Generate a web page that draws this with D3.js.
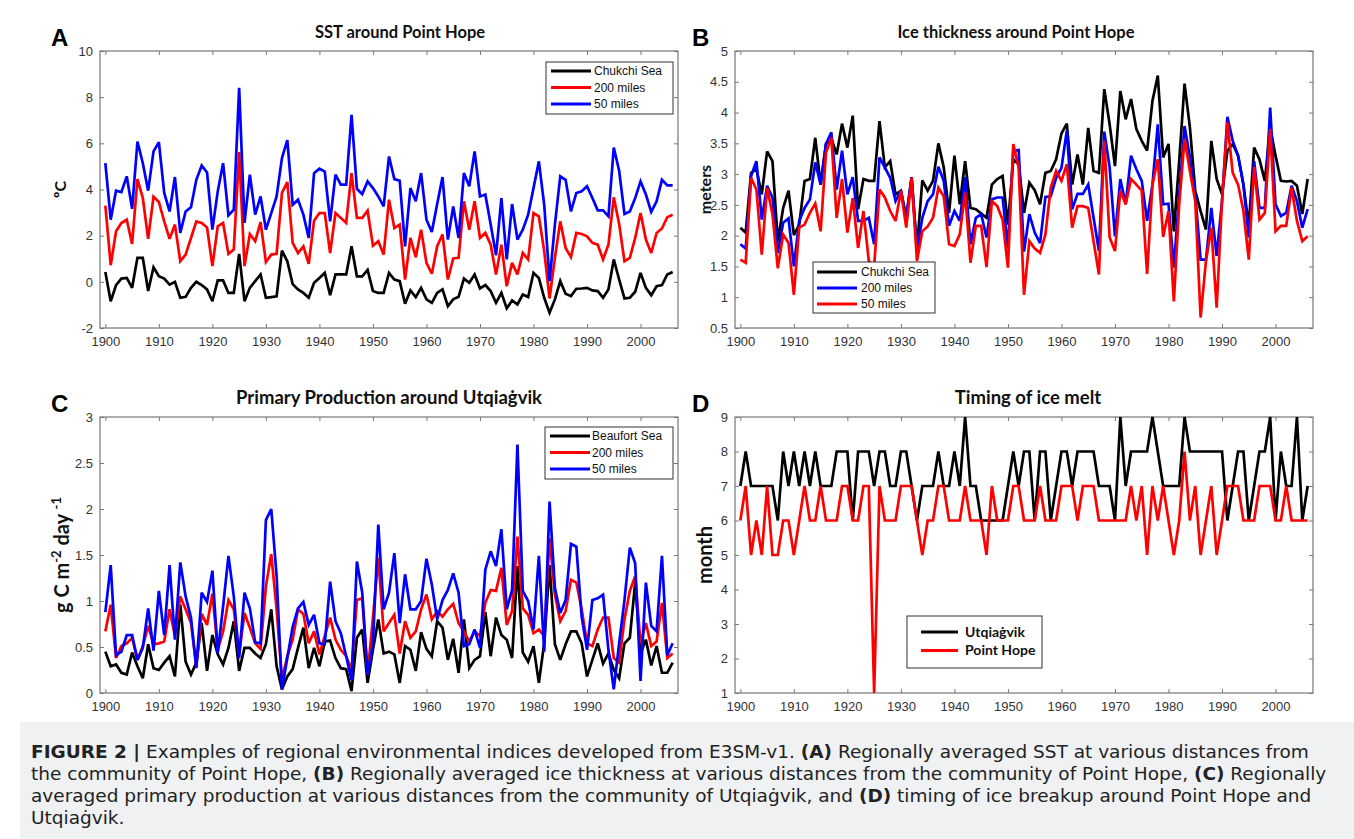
<!DOCTYPE html>
<meta charset="utf-8">
<style>
body { margin: 0; background: #fff; }
</style>
<svg id="fig" width="1354" height="839"></svg>
<script src="https://cdn.jsdelivr.net/npm/d3@7"></script>
<script>

var years = d3.range(1900, 2007);
var yearTicks = [1900, 1910, 1920, 1930, 1940, 1950, 1960, 1970, 1980, 1990, 2000];

// A: SST around Point Hope (deg C)
var sstChukchi = [0.43,-0.84,-0.14,0.14,0.17,-0.26,1.04,1.04,-0.40,0.63,0.24,0.14,-0.12,0.00,-0.69,-0.65,-0.26,0.00,-0.14,-0.33,-0.84,0.06,0.06,-0.48,-0.48,1.21,-0.84,-0.26,0.03,0.32,-0.69,-0.66,-0.63,1.35,0.89,-0.10,
  -0.33,-0.48,-0.69,-0.04,0.17,0.39,-0.58,0.32,0.32,0.32,1.54,0.24,0.24,0.52,-0.40,-0.48,-0.48,0.39,0.10,0.03,-0.95,-0.37,-0.66,-0.26,-0.76,-0.91,-0.48,-0.33,-1.05,-0.76,-0.65,0.14,-0.04,0.32,-0.29,-0.14,-0.40,
  -0.91,-0.48,-1.15,-0.81,-0.98,-0.55,-0.66,0.39,0.17,-0.69,-1.34,-0.76,0.03,-0.52,-0.62,-0.30,-0.29,-0.26,-0.37,-0.40,-0.69,-0.33,0.97,0.10,-0.72,-0.69,-0.43,0.39,-0.26,-0.58,-0.19,-0.14,0.32,0.43];
var sst200 = [3.30,0.72,2.19,2.55,2.69,1.64,4.45,3.63,1.86,3.69,3.46,2.62,1.86,2.48,0.89,1.18,1.90,2.62,2.55,2.36,0.68,2.41,2.55,1.21,1.40,5.62,0.68,2.07,1.76,2.59,0.86,1.18,1.21,3.85,4.32,1.69,
  1.25,1.54,0.78,2.65,2.98,2.98,1.25,2.98,2.77,2.55,4.71,2.77,2.77,3.08,1.57,1.76,1.18,3.56,2.33,2.48,0.10,1.90,1.07,2.26,0.82,0.35,1.54,2.05,0.10,1.01,1.04,3.49,2.26,3.49,1.90,2.12,1.61,
  0.32,1.61,-0.19,0.82,0.32,1.25,0.97,2.98,2.84,1.33,-0.72,1.04,2.62,1.47,1.07,2.12,2.07,1.97,1.69,1.61,0.97,1.61,3.66,2.51,0.89,1.04,1.90,2.98,1.83,1.25,2.12,2.31,2.80,2.91];
var sst50 = [5.14,2.69,3.95,3.89,4.57,3.16,6.08,5.14,3.95,5.65,6.05,3.85,3.05,4.54,2.12,3.05,3.23,4.42,5.04,4.74,2.26,3.92,5.14,2.88,3.13,8.41,2.55,4.64,2.91,3.70,2.26,2.98,3.70,5.36,6.14,3.34,
  3.56,2.91,1.90,4.71,4.90,4.78,2.62,4.64,4.21,4.21,7.23,4.03,3.80,4.35,4.06,3.70,3.27,5.43,4.45,4.38,1.54,4.06,3.49,4.71,2.69,2.16,3.37,4.54,1.83,3.27,1.90,4.71,4.14,5.65,3.70,3.78,2.48,
  1.15,3.63,0.97,3.37,1.83,2.26,2.91,4.06,5.22,3.34,0.03,2.48,4.57,4.42,3.05,3.85,3.92,4.14,3.63,3.10,3.10,2.84,5.82,4.81,2.94,3.05,3.63,4.35,3.78,3.03,3.49,4.42,4.18,4.18];
var sstTicks = [-2, 0, 2, 4, 6, 8, 10];

// B: ice thickness around Point Hope (meters)
var iceChukchi = [2.13,2.05,3.02,3.08,2.67,3.37,3.21,1.91,2.45,2.73,2.01,2.18,2.89,2.92,3.59,2.83,3.49,3.58,3.32,3.82,3.43,3.95,2.43,2.92,2.89,2.89,3.86,3.11,3.21,2.67,2.73,2.29,2.95,1.78,2.90,2.73,
  2.89,3.50,3.11,2.37,3.30,2.51,3.21,2.45,2.43,2.36,2.29,2.83,2.92,2.97,2.18,3.24,3.16,2.37,2.86,2.74,2.51,3.02,3.05,3.24,3.66,3.82,2.83,3.32,2.83,3.75,3.05,3.02,4.38,3.81,3.13,4.35,
  3.89,4.22,3.73,3.54,3.38,4.19,4.60,3.27,3.49,2.07,3.21,4.47,3.76,2.73,2.40,2.10,3.54,2.92,2.67,3.38,3.49,3.30,2.83,2.16,3.43,3.24,2.89,3.76,3.30,2.89,2.88,2.89,2.81,2.35,2.92];
var ice200 = [1.86,1.79,2.97,3.21,2.26,2.81,2.62,1.72,2.21,2.28,1.50,2.24,2.45,2.59,3.19,2.83,3.49,3.68,2.75,3.38,2.67,2.95,2.24,2.24,2.29,1.86,3.27,3.11,2.94,2.56,2.73,2.29,2.95,1.75,2.29,2.56,
  2.67,3.12,2.89,2.16,2.40,2.24,2.95,1.86,2.29,2.35,1.97,2.59,2.62,2.62,1.80,3.38,3.39,1.74,2.35,2.05,1.88,2.63,2.64,2.94,3.10,3.71,2.43,2.68,2.68,2.83,2.29,1.75,3.69,3.11,1.99,2.92,
  2.51,3.30,3.08,2.89,2.24,2.83,3.81,2.51,2.52,1.48,2.67,3.78,3.27,2.67,1.61,1.61,2.45,1.67,2.56,3.93,3.54,3.30,2.83,1.97,3.21,2.45,2.45,4.08,2.51,2.32,2.37,2.81,2.56,2.13,2.43];
var ice50 = [1.61,1.56,2.94,2.75,1.69,2.78,2.35,1.47,2.02,1.88,1.04,2.13,2.18,2.37,2.52,2.07,3.35,3.59,2.29,2.92,2.05,2.61,1.80,2.40,1.59,1.50,2.75,2.62,2.40,2.24,2.73,2.13,2.94,1.59,2.07,2.15,
  2.29,2.78,2.64,1.86,1.83,2.02,2.70,1.56,2.16,2.16,1.49,2.56,2.48,2.26,1.48,3.49,3.11,1.04,1.91,1.79,1.72,2.02,2.78,3.05,2.89,3.16,2.13,2.48,2.48,2.45,1.91,1.37,3.54,1.97,1.75,2.73,
  2.51,2.92,2.83,2.73,1.38,2.83,3.24,1.98,2.40,0.93,2.51,3.57,3.05,2.56,0.67,1.59,2.13,0.83,2.56,3.84,3.02,2.83,2.40,1.61,3.12,2.26,2.37,3.73,2.07,2.16,2.16,2.78,2.24,1.91,1.99];
var iceTicks = [0.5, 1, 1.5, 2, 2.5, 3, 3.5, 4, 4.5, 5];

// C: primary production around Utqiagvik (g C m-2 day-1)
var ppBeaufort = [0.45,0.29,0.31,0.22,0.20,0.44,0.29,0.16,0.53,0.27,0.25,0.33,0.40,0.18,0.96,0.34,0.20,0.33,0.76,0.24,0.63,0.42,0.31,0.49,0.78,0.24,0.49,0.49,0.43,0.38,0.53,0.91,0.29,0.04,0.18,0.26,
  0.49,0.71,0.27,0.49,0.29,0.56,0.57,0.38,0.27,0.26,0.02,0.60,0.69,0.11,0.47,0.80,0.43,0.45,0.42,0.11,0.51,0.47,0.24,0.66,0.48,0.40,0.78,0.71,0.36,0.59,0.22,0.80,0.27,0.36,0.40,0.88,
  0.40,0.82,0.63,0.58,0.38,1.38,0.44,0.34,0.51,0.11,0.54,1.39,0.53,0.36,0.53,0.67,0.67,0.54,0.18,0.36,0.54,0.32,0.43,0.25,0.16,0.54,0.60,1.20,0.43,0.58,0.30,0.51,0.22,0.22,0.33];
var pp200 = [0.67,0.96,0.38,0.51,0.54,0.60,0.36,0.51,0.73,0.53,0.54,0.56,0.91,0.62,1.05,0.91,0.76,0.29,0.86,0.74,1.08,0.47,0.67,1.01,0.91,0.42,0.87,0.71,0.54,0.48,1.16,1.51,0.91,0.14,0.40,0.58,
  0.91,0.86,0.54,0.67,0.42,0.62,0.82,0.58,0.47,0.40,0.25,1.01,1.03,0.20,0.82,1.47,0.67,0.76,0.85,0.43,0.78,0.60,0.67,0.91,1.07,0.80,0.89,0.83,0.91,0.97,0.76,0.67,0.56,0.67,0.62,0.98,
  1.12,1.11,1.36,0.74,0.89,1.70,0.92,0.85,0.65,0.69,0.62,1.68,1.07,0.78,0.89,1.23,1.20,0.91,0.54,0.51,0.69,0.82,0.82,0.38,0.33,0.80,1.11,1.27,0.54,0.76,0.51,0.56,0.98,0.38,0.43];
var pp50 = [0.88,1.39,0.41,0.45,0.63,0.63,0.36,0.49,0.92,0.46,1.11,0.63,1.39,0.58,1.42,1.05,0.82,0.27,1.09,0.99,1.33,0.43,0.94,1.49,1.05,0.38,1.09,0.92,0.55,0.54,1.88,2.00,1.27,0.04,0.38,0.72,
  0.92,0.99,0.74,0.85,0.54,0.53,1.21,0.78,0.65,0.40,0.14,1.43,1.09,0.20,0.54,1.83,0.91,1.09,1.52,0.76,1.29,0.91,0.91,1.00,1.46,1.18,0.80,1.01,1.12,1.30,1.09,0.51,0.53,0.69,0.49,1.34,
  1.54,1.38,1.78,0.91,1.12,2.70,1.11,1.00,0.69,1.49,0.45,2.08,1.14,0.87,1.01,1.62,1.59,0.83,0.47,1.01,1.03,1.07,0.47,0.04,0.54,1.01,1.58,1.41,0.13,1.20,0.73,0.67,1.49,0.41,0.54];
var ppTicks = [0, 0.5, 1, 1.5, 2, 2.5, 3];

// D: timing of ice melt (month)
var meltUtqiagvik = [7,8,7,7,7,7,7,6,8,7,8,7,8,7,8,7,7,7,8,8,8,6,8,8,8,7,8,8,7,7,8,8,7,6,7,7,
  7,8,7,7,8,7,9,7,7,6,6,6,6,6,7,8,7,8,8,6,8,8,6,7,8,8,7,8,8,8,8,7,7,7,6,9,
  7,8,8,8,8,9,8,7,7,7,7,9,8,8,8,8,8,8,8,6,7,8,8,6,7,8,8,9,6,8,7,7,9,6,7];
var meltPointHope = [6,7,5,6,5,7,5,5,6,6,5,6,7,6,6,7,6,6,6,7,7,6,6,7,7,1,7,6,6,6,7,7,7,6,5,6,
  6,7,7,6,6,6,7,6,6,6,5,7,6,6,6,7,7,6,6,6,7,6,6,6,7,7,7,6,7,7,7,6,6,6,6,
  6,6,7,6,7,5,7,6,7,6,5,6,8,6,7,5,6,7,5,6,7,7,7,6,6,6,7,7,7,6,6,7,6,6,6,6];
var meltTicks = [1, 2, 3, 4, 5, 6, 7, 8, 9];

var svg = d3.select("#fig");
var axisFont = "'Liberation Sans', Arial, sans-serif";
var titleFont = "Lato, 'Open Sans', sans-serif";

function styleAxis(g) {
  g.select(".domain").remove();
  g.selectAll(".tick line").attr("stroke", "#777").attr("stroke-width", 1);
  g.selectAll(".tick text").attr("fill", "#333").style("font-family", axisFont).style("font-size", "13px");
}

function drawPanel(p) {
  var x = d3.scaleLinear().domain([1899, 2007]).range([p.left, p.right]);
  var y = d3.scaleLinear().domain(p.yDomain).range([p.bottom, p.top]);
  var g = svg.append("g");

  g.append("g").attr("transform", "translate(0," + p.bottom + ")")
    .call(d3.axisBottom(x).tickValues(yearTicks).tickFormat(d3.format("d")).tickSize(-4).tickPadding(9))
    .call(styleAxis);
  g.append("g").attr("transform", "translate(0," + p.top + ")")
    .call(d3.axisTop(x).tickValues(yearTicks).tickFormat("").tickSize(-4))
    .call(styleAxis);
  g.append("g").attr("transform", "translate(" + p.left + ",0)")
    .call(d3.axisLeft(y).tickValues(p.yTicks).tickFormat(function(d){ return String(d); }).tickSize(-4).tickPadding(7))
    .call(styleAxis);
  g.append("g").attr("transform", "translate(" + p.right + ",0)")
    .call(d3.axisRight(y).tickValues(p.yTicks).tickFormat("").tickSize(-4))
    .call(styleAxis);

  g.append("rect")
    .attr("x", p.left).attr("y", p.top)
    .attr("width", p.right - p.left).attr("height", p.bottom - p.top)
    .attr("fill", "none").attr("stroke", "#777").attr("stroke-width", 1.2);

  var line = d3.line().x(function(d, i){ return x(years[i]); }).y(function(d){ return y(d); });
  p.series.forEach(function(s){
    g.append("path").datum(s.values)
      .attr("d", line)
      .attr("fill", "none")
      .attr("stroke", s.color)
      .attr("stroke-width", 2.7)
      .attr("stroke-linejoin", "miter")
      .attr("stroke-miterlimit", 3);
  });

  g.append("text")
    .attr("x", p.titleX).attr("y", p.top - 13)
    .attr("text-anchor", "middle")
    .style("font-family", titleFont).style("font-weight", "bold").style("font-size", p.titleSize + "px")
    .attr("fill", "#111")
    .text(p.title);

  g.append("text")
    .attr("x", p.letterX).attr("y", p.top - 5)
    .style("font-family", axisFont).style("font-weight", "bold").style("font-size", "24px")
    .attr("fill", "#000")
    .text(p.letter);

  var yl = g.append("text")
    .attr("transform", "translate(" + p.ylabelX + "," + ((p.top + p.bottom) / 2) + ") rotate(-90)")
    .attr("text-anchor", "middle")
    .style("font-family", titleFont).style("font-weight", "bold").style("font-size", p.ylabelSize + "px")
    .attr("fill", "#111");
  p.ylabel.forEach(function(part){
    var t = yl.append("tspan").text(part.t);
    if (part.sup) t.attr("baseline-shift", "super").style("font-size", Math.round(p.ylabelSize * 0.65) + "px");
  });

  // legend
  var L = p.legend;
  var lg = g.append("g");
  lg.append("rect")
    .attr("x", L.x).attr("y", L.y).attr("width", L.w).attr("height", L.h)
    .attr("fill", "#fff").attr("stroke", "#333").attr("stroke-width", 1);
  L.items.forEach(function(it, i){
    var yy = L.y + L.pad + i * L.step;
    lg.append("line")
      .attr("x1", L.x + L.lx0).attr("x2", L.x + L.lx1)
      .attr("y1", yy).attr("y2", yy)
      .attr("stroke", it.color).attr("stroke-width", 3);
    lg.append("text")
      .attr("x", L.x + L.tx).attr("y", yy).attr("dy", "0.35em")
      .style("font-family", L.bold ? titleFont : axisFont)
      .style("font-weight", L.bold ? "bold" : "normal")
      .style("font-size", L.fs + "px")
      .attr("fill", "#111")
      .text(it.label);
  });
}

drawPanel({
  left: 100, right: 678, top: 51, bottom: 328,
  yDomain: [-2, 10], yTicks: sstTicks,
  title: "SST around Point Hope", titleX: 400, titleSize: 16.5, letter: "A", letterX: 51,
  ylabel: [{t: "º"}, {t: "C"}], ylabelX: 66, ylabelSize: 16,
  series: [
    {values: sstChukchi, color: "#000"},
    {values: sst200, color: "#ff0000"},
    {values: sst50, color: "#0000ff"}
  ],
  legend: {x: 546, y: 62, w: 127, h: 52, pad: 9, step: 16.5, lx0: 5, lx1: 45, tx: 48, fs: 12,
    items: [{label: "Chukchi Sea", color: "#000"}, {label: "200 miles", color: "#ff0000"}, {label: "50 miles", color: "#0000ff"}]}
});

drawPanel({
  left: 735, right: 1313, top: 51, bottom: 328,
  yDomain: [0.5, 5], yTicks: iceTicks,
  title: "Ice thickness around Point Hope", titleX: 1016, titleSize: 16.5, letter: "B", letterX: 692,
  ylabel: [{t: "meters"}], ylabelX: 711, ylabelSize: 16,
  series: [
    {values: iceChukchi, color: "#000"},
    {values: ice200, color: "#0000ff"},
    {values: ice50, color: "#ff0000"}
  ],
  legend: {x: 813, y: 262, w: 122, h: 51, pad: 10, step: 16, lx0: 4, lx1: 44, tx: 48, fs: 12,
    items: [{label: "Chukchi Sea", color: "#000"}, {label: "200 miles", color: "#0000ff"}, {label: "50 miles", color: "#ff0000"}]}
});

drawPanel({
  left: 100, right: 678, top: 417, bottom: 693,
  yDomain: [0, 3], yTicks: ppTicks,
  title: "Primary Production around Utqiaġvik", titleX: 389, titleSize: 18.5, letter: "C", letterX: 51,
  ylabel: [{t: "g C m"}, {t: "-2", sup: true}, {t: " day "}, {t: "-1", sup: true}], ylabelX: 69, ylabelSize: 20,
  series: [
    {values: ppBeaufort, color: "#000"},
    {values: pp200, color: "#ff0000"},
    {values: pp50, color: "#0000ff"}
  ],
  legend: {x: 545, y: 427, w: 128, h: 52, pad: 9, step: 16.5, lx0: 5, lx1: 45, tx: 47, fs: 12,
    items: [{label: "Beaufort Sea", color: "#000"}, {label: "200 miles", color: "#ff0000"}, {label: "50 miles", color: "#0000ff"}]}
});

drawPanel({
  left: 735, right: 1313, top: 417, bottom: 693,
  yDomain: [1, 9], yTicks: meltTicks,
  title: "Timing of ice melt", titleX: 1028, titleSize: 18.5, letter: "D", letterX: 692,
  ylabel: [{t: "month"}], ylabelX: 712, ylabelSize: 20,
  series: [
    {values: meltUtqiagvik, color: "#000"},
    {values: meltPointHope, color: "#ff0000"}
  ],
  legend: {x: 907, y: 616, w: 135, h: 52, pad: 16, step: 18.5, lx0: 14, lx1: 51, tx: 58, fs: 14, bold: true,
    items: [{label: "Utqiaġvik", color: "#000"}, {label: "Point Hope", color: "#ff0000"}]}
});

// caption
var captionLines = [
  [{t: "FIGURE 2 |", b: true}, {t: " Examples of regional environmental indices developed from E3SM-v1. "}, {t: "(A)", b: true}, {t: " Regionally averaged SST at various distances from"}],
  [{t: "the community of Point Hope, "}, {t: "(B)", b: true}, {t: " Regionally averaged ice thickness at various distances from the community of Point Hope, "}, {t: "(C)", b: true}, {t: " Regionally"}],
  [{t: "averaged primary production at various distances from the community of Utqiaġvik, and "}, {t: "(D)", b: true}, {t: " timing of ice breakup around Point Hope and"}],
  [{t: "Utqiaġvik."}]
];

svg.append("rect").attr("x", 20).attr("y", 722).attr("width", 1334).attr("height", 117).attr("fill", "#eff1f3");

captionLines.forEach(function(parts, i){
  var t = svg.append("text")
    .attr("x", 31).attr("y", 758 + i * 22)
    .style("font-family", "'DejaVu Sans', 'Noto Sans', sans-serif")
    .style("font-size", "18.5px")
    .attr("fill", "#222");
  parts.forEach(function(p){
    var s = t.append("tspan").text(p.t);
    if (p.b) s.style("font-weight", "bold");
  });
});

</script>
